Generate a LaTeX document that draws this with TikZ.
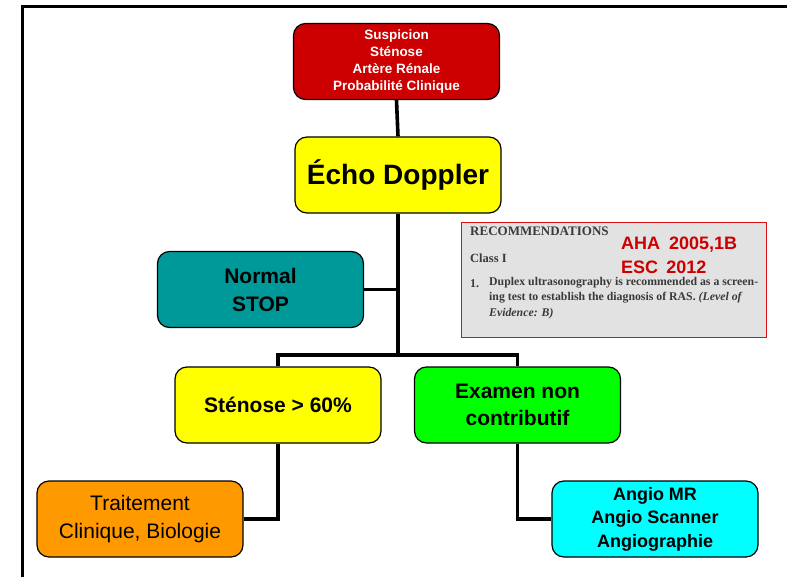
\documentclass[tikz,border=0pt]{standalone}
\usepackage{fontspec}
\setmainfont{Liberation Sans}
\newfontfamily\serifgar{Liberation Serif}
\usetikzlibrary{backgrounds}
\definecolor{boxred}{HTML}{CC0000}
\definecolor{boxyellow}{HTML}{FFFF00}
\definecolor{boxteal}{HTML}{009999}
\definecolor{boxgreen}{HTML}{00FF00}
\definecolor{boxorange}{HTML}{FF9900}
\definecolor{boxcyan}{HTML}{00FFFF}
\definecolor{recgray}{HTML}{E2E2E2}
\definecolor{recred}{HTML}{DD1111}
\definecolor{rectext}{HTML}{3A3A3A}
\newcommand{\fs}[2]{\fontsize{#1}{#2}\selectfont}
\begin{document}
\begin{tikzpicture}[x=1pt,y=-1pt,
  flowbox/.style={draw=black, line width=1.2pt, rounded corners=12pt, align=center,
    inner sep=0pt, minimum width=206pt, minimum height=76pt},
  link/.style={line width=3.6pt, black},
  rectxt/.style={inner sep=0pt, anchor=west, text=rectext, align=left}]
\useasboundingbox (0,0) rectangle (787,577);
\draw[line width=3pt] (22.5,577) -- (22.5,7) -- (787,7);

\node[flowbox, fill=boxred, text=white, font=\bfseries\fs{13.5}{17}] (susp) at (396.5,61.5)
  {Suspicion\\Sténose\\Artère Rénale\\Probabilité Clinique};
\node[flowbox, fill=boxyellow, font=\bfseries\fs{28}{32}] (echo) at (398,175) {Écho Doppler};
\node[flowbox, fill=boxteal, font=\bfseries\fs{21}{28}] (normal) at (260.5,289.5) {Normal\\STOP};
\node[flowbox, fill=boxyellow, font=\bfseries\fs{21}{26}] (steno) at (278,405) {Sténose > 60\%};
\node[flowbox, fill=boxgreen, font=\bfseries\fs{21}{27}] (exam) at (517.5,405) {Examen non\\contributif};
\node[flowbox, fill=boxorange, font=\fs{21}{28}] (trait) at (140,519) {Traitement\\Clinique, Biologie};
\node[flowbox, fill=boxcyan, font=\bfseries\fs{18}{23.5}] (angio) at (655,519) {Angio MR\\Angio Scanner\\Angiographie};

\coordinate (junc) at (398,355);
\begin{scope}[on background layer]
\draw[link] (susp.south) -- (echo.north);
\draw[link] (echo.south) -- (junc);
\draw[link] (normal.east) -- (normal.east -| echo.south);
\draw[link] (steno.north) -- (steno.north |- junc) -- (exam.north |- junc) -- (exam.north);
\draw[link] (steno.south) |- (trait.east);
\draw[link] (exam.south) |- (angio.west);
\end{scope}

% recommendations box
\node[draw=recred, line width=1.4pt, fill=recgray, minimum width=305pt, minimum height=115pt,
  inner sep=0pt] (rec) at (614,280) {};
\node[rectxt, font=\serifgar\bfseries\fs{13}{14}] (rechead) at (470,231) {RECOMMENDATIONS};
\node[rectxt, font=\serifgar\bfseries\fs{12.5}{14}] (recclass) at (470,258) {Class I};
\node[rectxt, font=\serifgar\bfseries\fs{12}{14}] (recnum) at (470,284) {1.};
\node[rectxt, font=\serifgar\bfseries\fs{11.8}{15.5}, anchor=north west] (recitem) at (489,277)
  {Duplex ultrasonography is recommended as a screen-\\
   ing test to establish the diagnosis of RAS. \textit{(Level of}\\
   \textit{Evidence: B)}};
\node[inner sep=0pt, anchor=west, text=boxred, font=\bfseries\fs{18}{22}] (aha) at (621,245) {AHA\hspace{0.5em}2005,1B};
\node[inner sep=0pt, anchor=west, text=boxred, font=\bfseries\fs{18}{22}] (esc) at (621,267) {ESC\hspace{0.45em}2012};
\end{tikzpicture}
\end{document}
